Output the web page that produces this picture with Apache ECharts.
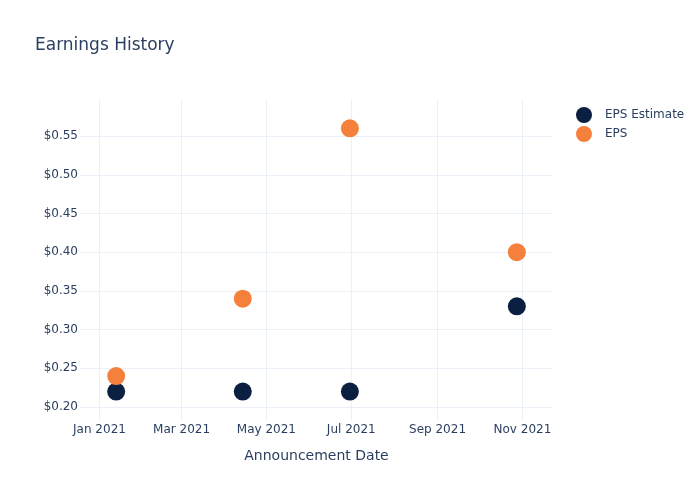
<!DOCTYPE html>
<html>
<head>
<meta charset="utf-8">
<script src="https://cdn.jsdelivr.net/npm/echarts@6/dist/echarts.min.js"></script>
<style>html,body{margin:0;padding:0;background:#fff}#c{width:700px;height:500px}</style>
</head>
<body>
<div id="c"></div>
<script>
var dates = ['2021-01-13', '2021-04-14', '2021-06-30', '2021-10-28'];
var epsEstimate = [0.22, 0.22, 0.22, 0.33];
var epsActual = [0.24, 0.34, 0.56, 0.40];
var monthNames = ['Jan','Feb','Mar','Apr','May','Jun','Jul','Aug','Sep','Oct','Nov','Dec'];
var seriesNames = ['EPS Estimate', 'EPS'];

var FONT = 'DejaVu Sans';
var TXT = '#2a3f5f';
var GRID = '#ebf0f8';

function pairs(vals) { return dates.map(function (d, i) { return [d, vals[i]]; }); }

var chart = echarts.init(document.getElementById('c'), null, {renderer: 'canvas'});
chart.setOption({
  animation: false,
  backgroundColor: '#fff',
  textStyle: {fontFamily: FONT},
  title: {
    text: 'Earnings History', left: 35, top: 37, padding: 0,
    textStyle: {fontFamily: FONT, fontSize: 17, fontWeight: 'normal', color: TXT}
  },
  legend: {
    orient: 'vertical', left: 576, top: 107, padding: 0, itemWidth: 16, itemHeight: 16, itemGap: 3,
    icon: 'circle', data: seriesNames,
    textStyle: {fontFamily: FONT, fontSize: 12, color: TXT, padding: [0, 0, 0, 8]}
  },
  grid: {left: 80, right: 147, top: 100, bottom: 80, containLabel: false},
  xAxis: {
    type: 'time',
    min: '2020-12-18', max: '2021-11-23',
    splitNumber: 4,
    name: 'Announcement Date', nameLocation: 'middle', nameGap: 29,
    nameTextStyle: {fontFamily: FONT, fontSize: 14, color: TXT},
    axisLine: {show: false}, axisTick: {show: false},
    axisLabel: {
      fontFamily: FONT, fontSize: 12, color: TXT, margin: 4, hideOverlap: false,
      showMinLabel: false, showMaxLabel: false,
      formatter: function (v) { var d = new Date(v); return monthNames[d.getMonth()] + ' ' + d.getFullYear(); }
    },
    splitLine: {show: true, lineStyle: {color: ['transparent', GRID, GRID, GRID, GRID, GRID, GRID, 'transparent'], width: 1}}
  },
  yAxis: {
    type: 'value', min: 0.1832, max: 0.5966, splitNumber: 8,
    axisLine: {show: false}, axisTick: {show: false},
    axisLabel: {
      fontFamily: FONT, fontSize: 12, color: TXT, margin: 2,
      showMinLabel: false, showMaxLabel: false,
      formatter: function (v) { return '$' + v.toFixed(2); }
    },
    splitLine: {show: true, lineStyle: {color: ['transparent', GRID, GRID, GRID, GRID, GRID, GRID, GRID, GRID, 'transparent'], width: 1}}
  },
  series: [
    {name: seriesNames[0], type: 'scatter', symbolSize: 18, data: pairs(epsEstimate), itemStyle: {color: '#0b1f40', opacity: 1}},
    {name: seriesNames[1], type: 'scatter', symbolSize: 18, data: pairs(epsActual), itemStyle: {color: '#f5803b', opacity: 1}}
  ]
});
</script>
</body>
</html>
